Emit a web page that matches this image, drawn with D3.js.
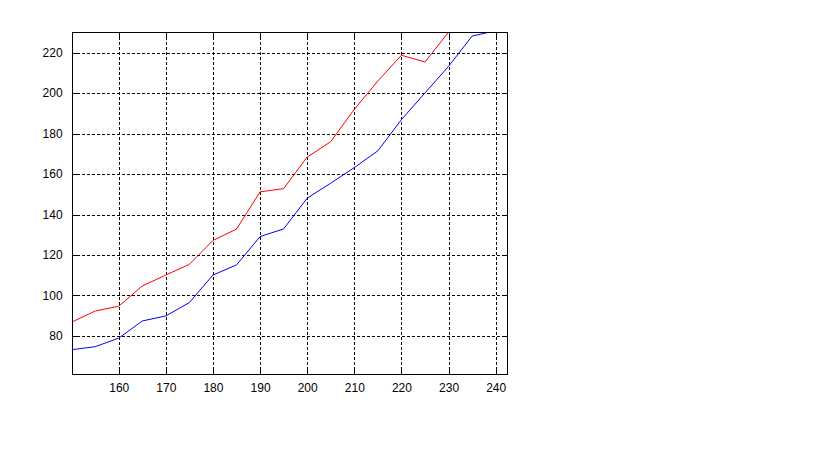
<!DOCTYPE html>
<html><head><meta charset="utf-8">
<script src="https://cdn.jsdelivr.net/npm/d3@7"></script>
<style>
body{margin:0;background:#fff;}
svg{display:block;}
text{font-family:"Liberation Sans",Arial,sans-serif;font-size:12px;fill:#000;}
</style></head>
<body><svg id="chart" width="819" height="460"></svg>
<script>
const redX = [150,155,160,165,170,175,180,185,190,195,200,205,210,215,220,225,230];
const redY = [86.8,92.3,94.7,104.7,110.1,115.4,127.2,132.8,151.2,152.8,168.4,176.0,192.0,206.0,218.7,215.4,230.1];
const blueX = [150,155,160,165,170,175,180,185,190,195,200,205,210,215,220,225,230,235,240];
const blueY = [73.2,74.7,78.9,87.4,89.9,96.5,110.1,115.1,129.1,132.9,148.1,155.5,163.2,171.5,186.9,200.1,213.2,228.2,230.8];
const xTicks = [160,170,180,190,200,210,220,230,240];
const yTicks = [80,100,120,140,160,180,200,220];
const xDomain = [150, 242.3];
const yDomain = [61.2, 230.2];

const svg = d3.select("#chart");
const L = 71.6, R = 506.5, T = 32, B = 374;
const x = d3.scaleLinear().domain(xDomain).range([L, R]);
const y = d3.scaleLinear().domain(yDomain).range([B, T]);

svg.append("defs").append("clipPath").attr("id","clip")
  .append("rect").attr("x",L).attr("y",T).attr("width",R-L).attr("height",B-T);

// grid
const g = svg.append("g");
g.selectAll(".vg").data(xTicks).join("line")
  .attr("x1",d=>Math.round(x(d))+0.5).attr("x2",d=>Math.round(x(d))+0.5)
  .attr("y1",T).attr("y2",B)
  .attr("stroke","#000").attr("stroke-dasharray","3,2").attr("shape-rendering","crispEdges");
g.selectAll(".hg").data(yTicks).join("line")
  .attr("y1",d=>Math.round(y(d))+0.5).attr("y2",d=>Math.round(y(d))+0.5)
  .attr("x1",L).attr("x2",R)
  .attr("stroke","#000").attr("stroke-dasharray","3,2").attr("shape-rendering","crispEdges");

// lines
const line = d3.line().x(d=>x(d[0])).y(d=>y(d[1]));
svg.append("path").datum(redX.map((v,i)=>[v,redY[i]]))
  .attr("d",line).attr("fill","none").attr("stroke","#ff0000").attr("stroke-width",1)
  .attr("clip-path","url(#clip)");
svg.append("path").datum(blueX.map((v,i)=>[v,blueY[i]]))
  .attr("d",line).attr("fill","none").attr("stroke","#0000ff").attr("stroke-width",1)
  .attr("clip-path","url(#clip)");

// axes (inward ticks on all sides)
const tk = 5;
const ax = svg.append("g").attr("shape-rendering","crispEdges");
ax.append("g").attr("transform",`translate(0,${B})`)
  .call(d3.axisBottom(x).tickValues(xTicks).tickSize(-tk).tickPadding(9).tickFormat(d3.format("d")))
  .call(s=>s.select(".domain").remove());
ax.append("g").attr("transform",`translate(0,${T})`)
  .call(d3.axisTop(x).tickValues(xTicks).tickSize(-tk).tickFormat(""))
  .call(s=>s.select(".domain").remove());
ax.append("g").attr("transform",`translate(${L},0)`)
  .call(d3.axisLeft(y).tickValues(yTicks).tickSize(-tk).tickPadding(9).tickFormat(d3.format("d")))
  .call(s=>s.select(".domain").remove());
ax.append("g").attr("transform",`translate(${R},0)`)
  .call(d3.axisRight(y).tickValues(yTicks).tickSize(-tk).tickFormat(""))
  .call(s=>s.select(".domain").remove());
svg.selectAll(".tick text").attr("font-family","Liberation Sans, Arial, sans-serif").attr("font-size",12).attr("fill","#000");
svg.selectAll(".tick line").attr("stroke","#000");

ax.append("rect").attr("x",Math.round(L)+0.5).attr("y",T+0.5)
  .attr("width",Math.round(R)-Math.round(L)).attr("height",B-T)
  .attr("fill","none").attr("stroke","#000").attr("stroke-width",1);
</script></body></html>
